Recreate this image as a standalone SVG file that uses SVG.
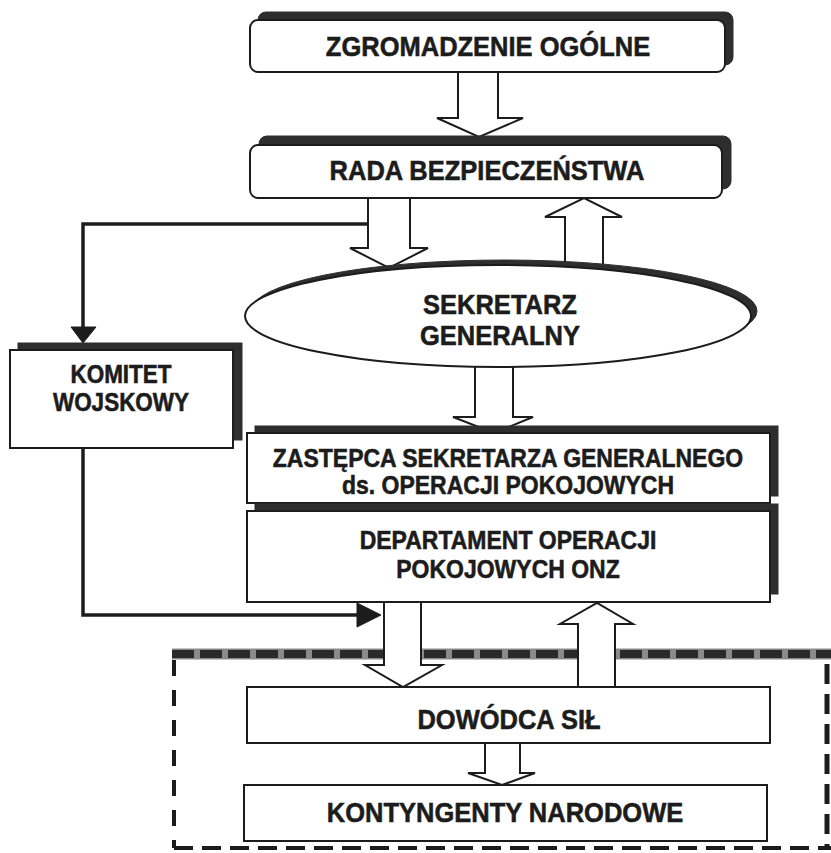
<svg xmlns="http://www.w3.org/2000/svg" width="831" height="853" viewBox="0 0 831 853">
  <defs>
    <style>
      .box { fill: #ffffff; stroke: #1c1c1c; stroke-width: 2; }
      .shadow { fill: #2e2e2e; stroke: #2e2e2e; stroke-width: 1; }
      .blk { fill: #ffffff; stroke: #1c1c1c; stroke-width: 2; stroke-linejoin: miter; }
      .line { fill: none; stroke: #1c1c1c; stroke-width: 3.5; }
      .head { fill: #1c1c1c; stroke: #1c1c1c; stroke-width: 1; }
      .lbl { font-family: "Liberation Sans", Arial, sans-serif; font-weight: bold; fill: #1c1c1c; stroke: #1c1c1c; stroke-width: 0.5; text-anchor: middle; }
      .big { font-size: 25.5px; }
      .mid { font-size: 23px; }
      .cmt { font-size: 22.5px; }
    </style>
  </defs>
  <rect x="0" y="0" width="831" height="853" fill="#ffffff"/>

  <!-- mission area frame (dashed) -->
  <g id="mission-frame">
    <line x1="172" y1="654" x2="831" y2="654" stroke="#8a8a8a" stroke-width="11"/>
    <line x1="172" y1="654" x2="831" y2="654" stroke="#2a2a2a" stroke-width="8" stroke-dasharray="22 6"/>
    <line x1="174" y1="660" x2="174" y2="848" stroke="#1c1c1c" stroke-width="4" stroke-dasharray="16 14"/>
    <line x1="174" y1="848" x2="831" y2="848" stroke="#1c1c1c" stroke-width="4" stroke-dasharray="19 9"/>
    <line x1="827" y1="664" x2="827" y2="848" stroke="#1c1c1c" stroke-width="5" stroke-dasharray="20 10"/>
  </g>

  <!-- connectors -->
  <g id="connectors">
    <!-- Zgromadzenie -> Rada -->
    <path class="blk" d="M458,72 L458,118 L437,118 L479,137 L523,118 L498,118 L498,72"/>
    <!-- Rada -> Sekretarz -->
    <path class="blk" d="M368,198 L368,248 L350,248 L389,268 L428,248 L410,248 L410,198"/>
    <!-- Sekretarz -> Rada -->
    <path class="blk" d="M565,290 L565,217 L545,217 L584,198 L622,217 L603,217 L603,290"/>
    <!-- Rada -> Komitet -->
    <polyline class="line" points="368,224 83,224 83,328"/>
    <polygon class="head" points="71,327 96,327 83,343"/>
    <!-- Sekretarz -> Zastepca -->
    <path class="blk" d="M475,350 L475,417 L453,417 L494,433 L533,417 L513,417 L513,350"/>
    <!-- Komitet -> Dowodca line -->
    <polyline class="line" points="83,448 83,615 359,615"/>
    <polygon class="head" points="357,603 381,615 357,627"/>
    <!-- Departament -> Dowodca -->
    <path class="blk" d="M384,602 L384,665 L365,665 L403,687 L442,665 L421,665 L421,602"/>
    <!-- Dowodca -> Departament -->
    <path class="blk" d="M578,687 L578,624 L560,624 L597,603 L633,624 L615,624 L615,687"/>
    <!-- Dowodca -> Kontyngenty -->
    <path class="blk" d="M485,743 L485,773 L468,773 L502,785 L535,773 L520,773 L520,743"/>
  </g>

  <g id="zgromadzenie">
    <rect class="shadow" x="258" y="12" width="475" height="53" rx="8"/>
    <rect class="box" x="250" y="20" width="475" height="52" rx="8"/>
    <text class="lbl big" transform="translate(488,56) scale(1,1.12)">ZGROMADZENIE OGÓLNE</text>
  </g>

  <g id="rada">
    <rect class="shadow" x="259" y="136" width="472" height="53" rx="8"/>
    <rect class="box" x="250" y="145" width="472" height="53" rx="8"/>
    <text class="lbl big" transform="translate(487,180) scale(1,1.12)">RADA BEZPIECZEŃSTWA</text>
  </g>

  <g id="sekretarz">
    <ellipse class="shadow" cx="504" cy="311" rx="253" ry="51"/>
    <ellipse class="box" cx="498" cy="316" rx="253" ry="51"/>
    <text class="lbl big" transform="translate(500,314) scale(1,1.1)">SEKRETARZ</text>
    <text class="lbl big" transform="translate(500,345) scale(1,1.1)">GENERALNY</text>
  </g>

  <g id="komitet">
    <rect class="shadow" x="18" y="343" width="224" height="97"/>
    <rect class="box" x="10" y="350" width="223" height="98"/>
    <text class="lbl cmt" transform="translate(121,383) scale(1,1.12)">KOMITET</text>
    <text class="lbl cmt" transform="translate(121,411) scale(1,1.12)">WOJSKOWY</text>
  </g>

  <g id="zastepca">
    <rect class="shadow" x="255" y="426" width="523" height="70"/>
    <rect class="box" x="247" y="433" width="523" height="70"/>
    <text class="lbl mid" transform="translate(508,467) scale(1,1.12)">ZASTĘPCA SEKRETARZA GENERALNEGO</text>
    <text class="lbl mid" transform="translate(508,494) scale(1,1.12)">ds. OPERACJI POKOJOWYCH</text>
  </g>

  <g id="departament">
    <rect class="shadow" x="255" y="504" width="523" height="90"/>
    <rect class="box" x="247" y="511" width="523" height="91"/>
    <text class="lbl mid" transform="translate(508,549) scale(1,1.12)">DEPARTAMENT OPERACJI</text>
    <text class="lbl mid" transform="translate(508,578) scale(1,1.12)">POKOJOWYCH ONZ</text>
  </g>

  <g id="dowodca">
    <rect class="box" x="247" y="687" width="523" height="56"/>
    <text class="lbl big" transform="translate(509,729) scale(1,1.12)">DOWÓDCA SIŁ</text>
  </g>

  <g id="kontyngenty">
    <rect class="box" x="244" y="785" width="523" height="56"/>
    <text class="lbl big" transform="translate(505,822) scale(1,1.12)">KONTYNGENTY NARODOWE</text>
  </g>
</svg>
